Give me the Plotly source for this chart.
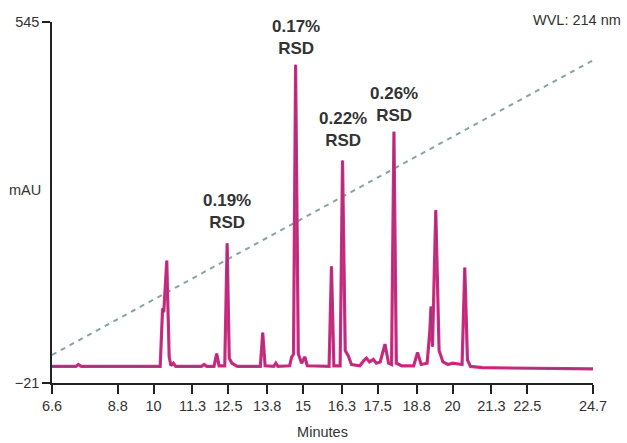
import plotly.graph_objects as go

# Chromatogram trace (time in minutes, signal in mAU)
time_min = [6.6, 7.40, 7.48, 7.58,
            10.22, 10.30, 10.34, 10.44, 10.52, 10.58, 10.66, 10.74,
            11.60, 11.69, 11.78,
            12.02, 12.11, 12.19,
            12.38, 12.46, 12.53, 12.62, 12.80,
            13.57, 13.65, 13.73,
            14.02, 14.09, 14.16,
            14.55, 14.62, 14.68, 14.75, 14.84, 14.95, 15.06, 15.14,
            15.87, 15.95, 16.03,
            16.24, 16.32, 16.41, 16.51, 16.62,
            16.90, 17.03, 17.12, 17.22, 17.35, 17.45,
            17.58, 17.74, 17.86,
            17.96, 18.04, 18.12, 18.30,
            18.70, 18.83, 18.95,
            19.15, 19.24, 19.28, 19.33, 19.44, 19.55, 19.68, 19.85, 20.00,
            20.32, 20.41, 20.50, 20.60,
            21.00, 24.7]
signal_mau = [5, 5, 8, 5,
              5, 96, 90, 171, 20, 6, 10, 5,
              5, 8, 5,
              5, 25, 6,
              6, 198, 18, 10, 5,
              5, 58, 6,
              5, 10, 5,
              6, 20, 24, 478, 25, 10, 20, 6,
              5, 162, 6,
              6, 328, 30, 22, 8,
              6, 14, 18, 12, 16, 10,
              12, 40, 10,
              8, 373, 10, 6,
              6, 27, 8,
              10, 60, 99, 36, 250, 30, 12, 8, 10,
              8, 160, 15, 5,
              3, 1]

# Gradient (dashed) line end points
gradient_time = [6.6, 24.7]
gradient_level = [23, 485]

# Axis ticks
x_ticks = [6.6, 8.8, 10, 11.3, 12.5, 13.8, 15, 16.3, 17.5, 18.8, 20, 21.3, 22.5, 24.7]
x_tick_text = ["6.6", "8.8", "10", "11.3", "12.5", "13.8", "15", "16.3", "17.5", "18.8", "20", "21.3", "22.5", "24.7"]
y_ticks = [-21, 545]
y_tick_text = ["\u221221", "545"]

# Peak annotations
label_time = [12.46, 14.75, 16.32, 18.04]
label_text = ["0.19%<br>RSD", "0.17%<br>RSD", "0.22%<br>RSD", "0.26%<br>RSD"]
label_level = [213, 486, 341, 381]

FONT = "Liberation Sans, Arial, sans-serif"
TXT = "#333333"


def mkfont(size, weight=None):
    d = dict(family=FONT, size=size, color=TXT)
    if weight:
        d["weight"] = weight
    return d


fig = go.Figure()
fig.add_trace(go.Scatter(x=gradient_time, y=gradient_level, mode="lines",
                         line=dict(color="#86a3a8", width=2, dash="5px,5px"),
                         hoverinfo="skip", showlegend=False))
fig.add_trace(go.Scatter(x=time_min, y=signal_mau, mode="lines",
                         line=dict(color="#dc2a88", width=3.2),
                         showlegend=False))
fig.add_trace(go.Scatter(x=time_min, y=signal_mau, mode="lines",
                         line=dict(color="#7e3a68", width=1.0),
                         opacity=0.7, showlegend=False))

for t, txt, lv in zip(label_time, label_text, label_level):
    fig.add_annotation(x=t, y=lv, xref="x", yref="y", text=txt,
                       showarrow=False, xanchor="center", yanchor="bottom",
                       font=mkfont(17, weight="bold"))

fig.add_annotation(x=1.055, y=1.005, xref="paper", yref="paper", text="WVL: 214 nm",
                   showarrow=False, xanchor="right", yanchor="middle",
                   font=mkfont(14.5))
fig.add_annotation(x=-0.017, y=0.535, xref="paper", yref="paper", text="mAU",
                   showarrow=False, xanchor="right", yanchor="middle",
                   font=mkfont(14.5))

fig.update_xaxes(range=[6.6, 24.7], tickvals=x_ticks, ticktext=x_tick_text,
                 automargin=False, tickangle=0,
                 showgrid=False, zeroline=False, showline=True, linecolor="#222222",
                 linewidth=1.5, ticks="outside", ticklen=9, tickwidth=1.5,
                 tickcolor="#222222", tickfont=mkfont(14.5),
                 title=dict(text="Minutes", font=mkfont(14.5), standoff=14))
fig.update_yaxes(range=[-21, 545], tickvals=y_ticks, ticktext=y_tick_text,
                 automargin=False,
                 showgrid=False, zeroline=False, showline=True, linecolor="#222222",
                 linewidth=1.5, ticks="outside", ticklen=8, tickwidth=1.5,
                 tickcolor="#222222", tickfont=mkfont(14.5))

fig.update_layout(width=627, height=443, margin=dict(l=52, r=34, t=22, b=60),
                  paper_bgcolor="white", plot_bgcolor="white", showlegend=False)

fig.write_html("out.html", config={"displayModeBar": False},
               post_script="document.body.style.margin='0';document.body.style.overflow='hidden';")
